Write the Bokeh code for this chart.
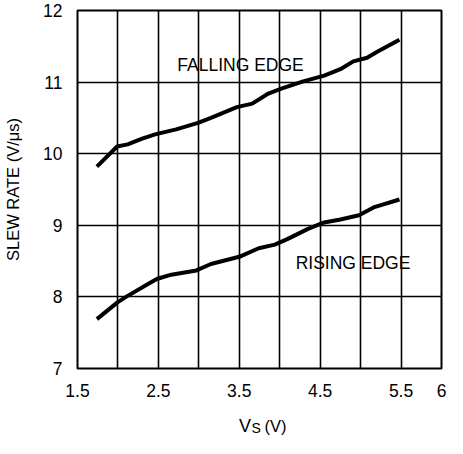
from bokeh.plotting import figure
from bokeh.layouts import column
from bokeh.models import FixedTicker, Label, Range1d
from bokeh.core.properties import value
from bokeh.embed import file_html
from bokeh.resources import INLINE

# Data
falling_x = [1.74, 1.99, 2.12, 2.30, 2.46, 2.72, 2.99, 3.15, 3.47, 3.66, 3.86, 4.02, 4.29, 4.55, 4.75, 4.91, 5.08, 5.20, 5.48]
falling_y = [9.82, 10.10, 10.13, 10.21, 10.27, 10.34, 10.43, 10.50, 10.65, 10.70, 10.84, 10.91, 11.01, 11.09, 11.18, 11.29, 11.34, 11.42, 11.59]

rising_x = [1.74, 1.99, 2.10, 2.34, 2.48, 2.66, 2.97, 3.15, 3.50, 3.74, 3.94, 4.10, 4.35, 4.55, 4.75, 4.98, 5.16, 5.48]
rising_y = [7.69, 7.92, 8.00, 8.16, 8.25, 8.31, 8.37, 8.46, 8.56, 8.68, 8.73, 8.81, 8.95, 9.04, 9.08, 9.14, 9.25, 9.36]

x_ticks = [1.5, 2.5, 3.5, 4.5, 5.5, 6]
x_grid = [1.5, 2, 2.5, 3, 3.5, 4, 4.5, 5, 5.5, 6]
y_ticks = [7, 8, 9, 10, 11, 12]

FONT = "Liberation Sans"

p = figure(width=447, height=412, output_backend="svg", toolbar_location=None,
           x_range=Range1d(1.5, 6), y_range=Range1d(7, 12),
           min_border_left=77, min_border_right=6, min_border_top=10, min_border_bottom=44)
p.background_fill_color = "white"
p.border_fill_color = "white"
p.outline_line_color = "black"
p.outline_line_width = 2
p.outline_line_alpha = 1

p.xaxis.ticker = FixedTicker(ticks=x_ticks)
p.yaxis.ticker = FixedTicker(ticks=y_ticks)
p.xgrid.ticker = FixedTicker(ticks=x_grid)
p.ygrid.ticker = FixedTicker(ticks=y_ticks)
for g in (p.xgrid, p.ygrid):
    g.grid_line_color = "black"
    g.grid_line_width = 1.6
    g.grid_line_alpha = 1

for ax in (p.xaxis, p.yaxis):
    ax.axis_line_color = None
    ax.major_tick_line_color = None
    ax.minor_tick_line_color = None
    ax.major_tick_out = 0
    ax.major_tick_in = 0
    ax.major_label_text_font = FONT
    ax.major_label_text_font_size = "17.5px"
    ax.major_label_text_color = "black"
    ax.axis_label_text_font = FONT
    ax.axis_label_text_font_style = "normal"
    ax.axis_label_text_font_size = "16.5px"
    ax.axis_label_text_color = "black"

p.xaxis.major_label_standoff = 15
p.yaxis.major_label_standoff = 15
p.yaxis.axis_label = "SLEW RATE (V/\u03bcs)"
p.yaxis.axis_label_standoff = 18

p.line(falling_x, falling_y, line_color="black", line_width=4)
p.line(rising_x, rising_y, line_color="black", line_width=4)

p.add_layout(Label(x=3.516, y=11.24, text="FALLING EDGE", text_align="center", text_baseline="middle",
                   text_font=FONT, text_font_size="17.5px", text_color="black"))
p.add_layout(Label(x=4.906, y=8.47, text="RISING EDGE", text_align="center", text_baseline="middle",
                   text_font=FONT, text_font_size="17.5px", text_color="black"))

# x-axis title strip (separate figure so the text is not clipped)
t = figure(width=447, height=26, output_backend="svg", toolbar_location=None,
           x_range=p.x_range, y_range=Range1d(0, 1),
           min_border_left=77, min_border_right=6, min_border_top=0, min_border_bottom=0,
           x_axis_location=None, y_axis_location=None)
t.outline_line_color = None
t.background_fill_color = "white"
t.border_fill_color = "white"
t.xgrid.visible = False
t.ygrid.visible = False
t.text(x=[3.75], y=[0.5], text=["V"], x_offset=-20.5, text_align="left", text_baseline="middle",
       text_font=value(FONT), text_font_size=value("18px"), text_color="black")
t.text(x=[3.75], y=[0.5], text=["S"], x_offset=-8, y_offset=2, text_align="left", text_baseline="middle",
       text_font=value(FONT), text_font_size=value("14px"), text_color="black")
t.text(x=[3.75], y=[0.5], text=["(V)"], x_offset=5, text_align="left", text_baseline="middle",
       text_font=value(FONT), text_font_size=value("16.5px"), text_color="black")

layout = column(p, t, spacing=0)
open("out.html", "w").write(file_html(layout, INLINE))
